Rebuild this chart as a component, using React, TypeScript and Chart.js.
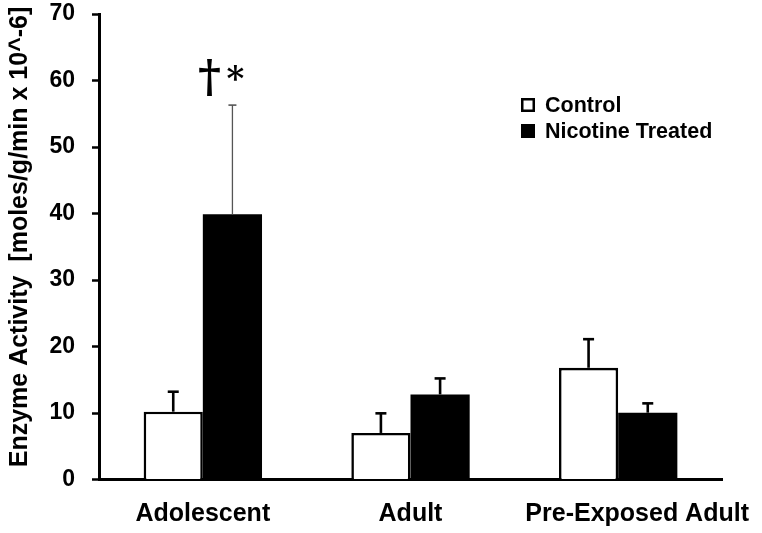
import React, { useEffect, useRef } from "react";
import { Chart, registerables } from "chart.js";

Chart.register(...registerables);

const categories = ["Adolescent", "Adult", "Pre-Exposed Adult"];
const controlValues = [10.2, 7.0, 16.8];
const controlErrors = [3.0, 2.95, 4.3];
const nicotineValues = [39.9, 12.8, 10.05];
const nicotineErrors = [16.4, 2.4, 1.4];
const seriesNames = ["Control", "Nicotine Treated"];
const yTicks = [0, 10, 20, 30, 40, 50, 60, 70];
const yTitle = "Enzyme Activity  [moles/g/min x 10^-6]";
const markDagger = "\u2020";
const markStar = "*";

const SANS = "'Liberation Sans', Arial, Helvetica, sans-serif";
const SERIF = "'DejaVu Serif', 'Liberation Serif', serif";

const errorBarPlugin = {
  id: "errorBars",
  afterDatasetsDraw(chart: any) {
    const ctx = chart.ctx;
    const y = chart.scales.y;
    const errs = [controlErrors, nicotineErrors];
    chart.data.datasets.forEach((ds: any, di: number) => {
      const meta = chart.getDatasetMeta(di);
      meta.data.forEach((bar: any, i: number) => {
        const v = ds.data[i];
        const top = y.getPixelForValue(v + errs[di][i]);
        const thin = di === 1 && i === 0;
        ctx.save();
        ctx.strokeStyle = thin ? "#555" : "#000";
        ctx.lineWidth = thin ? 1.3 : 2.6;
        const capHalf = thin ? 4 : 5.5;
        ctx.beginPath();
        ctx.moveTo(bar.x, bar.y);
        ctx.lineTo(bar.x, top);
        ctx.stroke();
        ctx.lineWidth = thin ? 1.6 : 2.6;
        ctx.beginPath();
        ctx.moveTo(bar.x - capHalf, top);
        ctx.lineTo(bar.x + capHalf, top);
        ctx.stroke();
        ctx.restore();
      });
    });
  },
};

const decorPlugin = {
  id: "decor",
  afterDraw(chart: any) {
    const ctx = chart.ctx;
    const x = chart.scales.x;
    ctx.save();
    // x category labels
    ctx.fillStyle = "#000";
    ctx.font = `bold 25px ${SANS}`;
    ctx.textAlign = "center";
    ctx.textBaseline = "alphabetic";
    const labelShift = [0, 0, 19];
    categories.forEach((c, i) => {
      ctx.fillText(c, x.getPixelForValue(i) + labelShift[i], 521);
    });
    // y title
    ctx.save();
    ctx.translate(20, 237);
    ctx.rotate(-Math.PI / 2);
    ctx.font = `bold 25px ${SANS}`;
    ctx.textAlign = "center";
    ctx.textBaseline = "middle";
    ctx.fillText(yTitle, 0, 0);
    ctx.restore();
    // legend
    ctx.font = `bold 21.5px ${SANS}`;
    ctx.textAlign = "left";
    ctx.textBaseline = "middle";
    const lx = 521;
    const rows = [105, 131];
    seriesNames.forEach((n, i) => {
      const cy = rows[i];
      if (i === 0) {
        ctx.fillStyle = "#fff";
        ctx.fillRect(lx, cy - 7, 14, 14);
        ctx.strokeStyle = "#000";
        ctx.lineWidth = 2.5;
        ctx.strokeRect(lx + 1.25, cy - 5.75, 11.5, 11.5);
      } else {
        ctx.fillStyle = "#000";
        ctx.fillRect(lx, cy - 7, 14, 14);
      }
      ctx.fillStyle = "#000";
      ctx.fillText(n, 545, cy + 1);
    });
    // significance marks above adolescent nicotine bar
    const meta = chart.getDatasetMeta(1);
    const bar = meta.data[0];
    ctx.font = `bold 44px ${SERIF}`;
    ctx.textAlign = "center";
    ctx.textBaseline = "alphabetic";
    ctx.fillText(markDagger, bar.x - 23, 92);
    ctx.font = `bold 34px ${SERIF}`;
    ctx.fillText(markStar, bar.x + 3, 90);
    ctx.restore();
  },
};

export default function App() {
  const ref = useRef<HTMLCanvasElement>(null);
  useEffect(() => {
    if (!ref.current) return;
    const chart = new Chart(ref.current, {
      type: "bar",
      data: {
        labels: categories,
        datasets: [
          {
            label: seriesNames[0],
            data: controlValues,
            backgroundColor: "#fff",
            borderColor: "#000",
            borderWidth: 2.6,
          },
          {
            label: seriesNames[1],
            data: nicotineValues,
            backgroundColor: "#000",
            borderColor: "#000",
            borderWidth: 0,
          },
        ],
      },
      options: {
        animation: false,
        responsive: true,
        maintainAspectRatio: false,
        layout: { padding: { top: 14, right: 40, left: 0, bottom: 0 } },
        plugins: { legend: { display: false }, tooltip: { enabled: false } },
        datasets: { bar: { categoryPercentage: 0.57, barPercentage: 1.0 } },
        scales: {
          x: {
            grid: { display: false },
            border: { display: true, color: "#000", width: 3 },
            ticks: { display: false },
            afterFit: (s: any) => {
              s.height = 53.5;
              s.paddingLeft = 0;
              s.paddingRight = 0;
            },
          },
          y: {
            min: 0,
            max: 70,
            afterBuildTicks: (s: any) => {
              s.ticks = yTicks.map((v) => ({ value: v }));
            },
            grid: {
              drawOnChartArea: false,
              drawTicks: true,
              tickLength: 7,
              tickWidth: 2.5,
              tickColor: "#000",
            },
            border: { display: true, color: "#000", width: 3 },
            ticks: {
              color: "#000",
              padding: 17,
              font: { family: SANS, size: 23, weight: "bold" },
            },
            afterFit: (s: any) => {
              s.width = 99;
              s.paddingTop = 0;
              s.paddingBottom = 0;
            },
          },
        },
      },
      plugins: [errorBarPlugin, decorPlugin],
    });
    return () => chart.destroy();
  }, []);
  return (
    <div style={{ position: "absolute", left: 0, top: 0, width: 762, height: 533, background: "#fff" }}>
      <canvas ref={ref} />
    </div>
  );
}
